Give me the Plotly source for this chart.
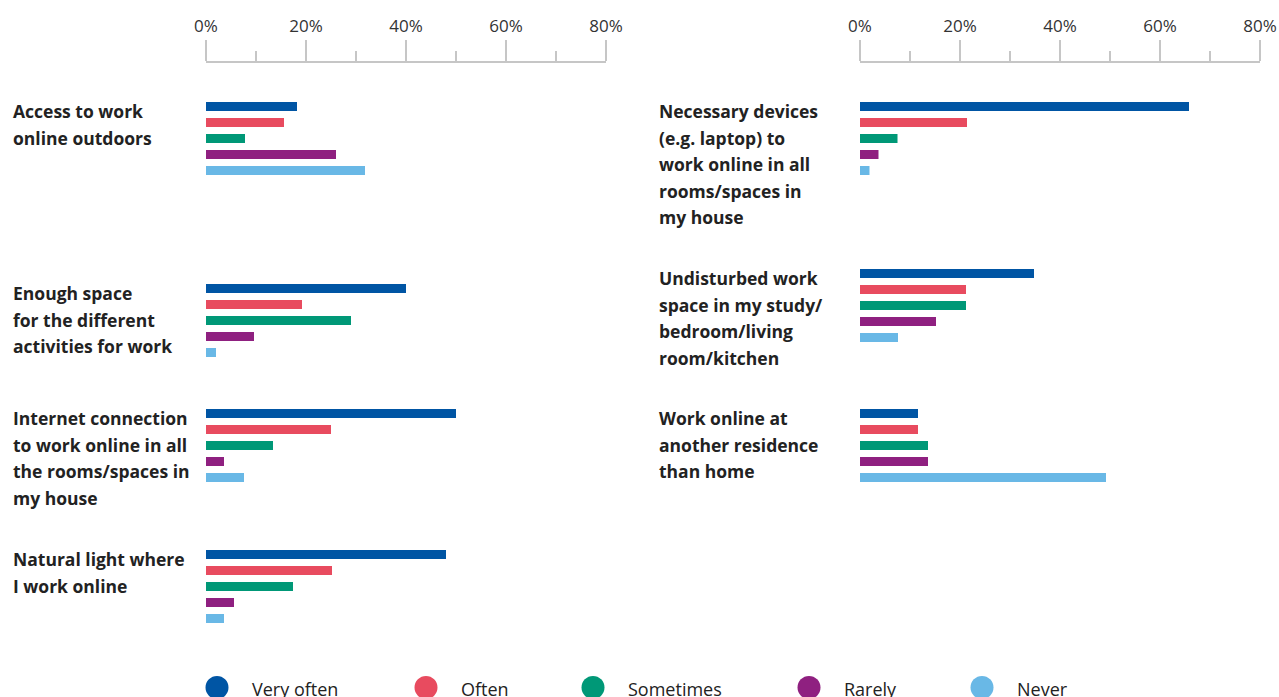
import plotly.graph_objects as go

# ---- data ---------------------------------------------------------------
series = ["Very often", "Often", "Sometimes", "Rarely", "Never"]
colors = ["#0055a4", "#e84b5f", "#009877", "#8f2080", "#69b8e6"]

left_categories = [
    "Access to work<br>online outdoors",
    "Enough space<br>for the different<br>activities for work",
    "Internet connection<br>to work online in all<br>the rooms/spaces in<br>my house",
    "Natural light where<br>I work online",
]
left_values = {
    "Very often": [18.2, 40.0, 50.0, 48.0],
    "Often":      [15.6, 19.2, 25.0, 25.2],
    "Sometimes":  [7.8, 29.0, 13.4, 17.4],
    "Rarely":     [26.0, 9.6, 3.6, 5.6],
    "Never":      [31.8, 2.0, 7.6, 3.6],
}

right_categories = [
    "Necessary devices<br>(e.g. laptop) to<br>work online in all<br>rooms/spaces in<br>my house",
    "Undisturbed work<br>space in my study/<br>bedroom/living<br>room/kitchen",
    "Work online at<br>another residence<br>than home",
]
right_values = {
    "Very often": [65.8, 34.8, 11.6],
    "Often":      [21.4, 21.2, 11.6],
    "Sometimes":  [7.5, 21.2, 13.6],
    "Rarely":     [3.7, 15.2, 13.6],
    "Never":      [1.9, 7.6, 49.2],
}

tick_vals = [0, 20, 40, 60, 80]
tick_text = ["0%", "20%", "40%", "60%", "80%"]

# ---- layout constants (pixel space) ------------------------------------
W, H = 1279, 697
AXIS_LINE_Y = 63
left_group_top = [106.5, 288.5, 413.5, 554.5]
right_group_top = [106.5, 273.5, 413.5]
BAR_STEP = 16
BAR_H = 9
LINE_STEP = 26.6
FONT = "Open Sans"
TEXT_DARK = "#222222"
GRID_GREY = "#c6c6c6"

fig = go.Figure()


def add_panel(values, group_tops, xaxis):
    for k, s in enumerate(series):
        ys = [g + k * BAR_STEP for g in group_tops]
        fig.add_trace(go.Bar(
            x=values[s], y=ys, orientation="h", width=BAR_H,
            marker=dict(color=colors[k], line=dict(width=0)),
            name=s, showlegend=False, xaxis=xaxis, yaxis="y",
            hoverinfo="x+name",
        ))


add_panel(left_values, left_group_top, "x")
add_panel(right_values, right_group_top, "x2")

annotations = []


def add_labels(cats, group_tops, x_px):
    for cat, top in zip(cats, group_tops):
        for i, line in enumerate(cat.split("<br>")):
            annotations.append(dict(
                text=line, x=x_px / W, xref="paper", xanchor="left",
                y=top + 4.5 + i * LINE_STEP, yref="y", yanchor="middle",
                showarrow=False,
                font=dict(family=FONT, size=17.5, color=TEXT_DARK, weight=700),
            ))


add_labels(left_categories, left_group_top, 11)
add_labels(right_categories, right_group_top, 657)

# legend drawn as circles with labels along the bottom edge
legend_circle_x = [217, 426, 593, 809, 982]
LEG_Y = 687.5
LEG_R = 11.5
shapes = []
for k, s in enumerate(series):
    cx = legend_circle_x[k]
    shapes.append(dict(
        type="circle", xref="paper", yref="y",
        x0=(cx - LEG_R) / W, x1=(cx + LEG_R) / W,
        y0=LEG_Y - LEG_R, y1=LEG_Y + LEG_R,
        fillcolor=colors[k], line=dict(width=0),
    ))
    annotations.append(dict(
        text=s, x=(cx + 33) / W, xref="paper", xanchor="left",
        y=LEG_Y + 1, yref="y", yanchor="middle", showarrow=False,
        font=dict(family=FONT, size=18, color=TEXT_DARK),
    ))

xaxis_common = dict(
    range=[0, 80], side="top", anchor="y", automargin=False,
    tickvals=tick_vals, ticktext=tick_text,
    ticks="outside", ticklen=21, tickwidth=1.5, tickcolor=GRID_GREY,
    minor=dict(ticks="outside", dtick=10, tick0=0, ticklen=10,
               tickwidth=1.5, tickcolor=GRID_GREY),
    showline=True, linecolor=GRID_GREY, linewidth=1.5,
    showgrid=False, zeroline=False, fixedrange=True,
    tickfont=dict(family=FONT, size=17, color="#333333"),
    ticklabelstandoff=1,
)

fig.update_layout(
    width=W, height=H,
    margin=dict(l=0, r=0, t=0, b=0, autoexpand=False),
    paper_bgcolor="white", plot_bgcolor="white",
    barmode="overlay",
    showlegend=False,
    xaxis=dict(domain=[206 / W, 606 / W], **xaxis_common),
    xaxis2=dict(domain=[860 / W, 1260 / W], **xaxis_common),
    yaxis=dict(range=[H, AXIS_LINE_Y], domain=[0, (H - AXIS_LINE_Y) / H],
               visible=False, fixedrange=True),
    annotations=annotations,
    shapes=shapes,
)

fig.write_html("out.html")
